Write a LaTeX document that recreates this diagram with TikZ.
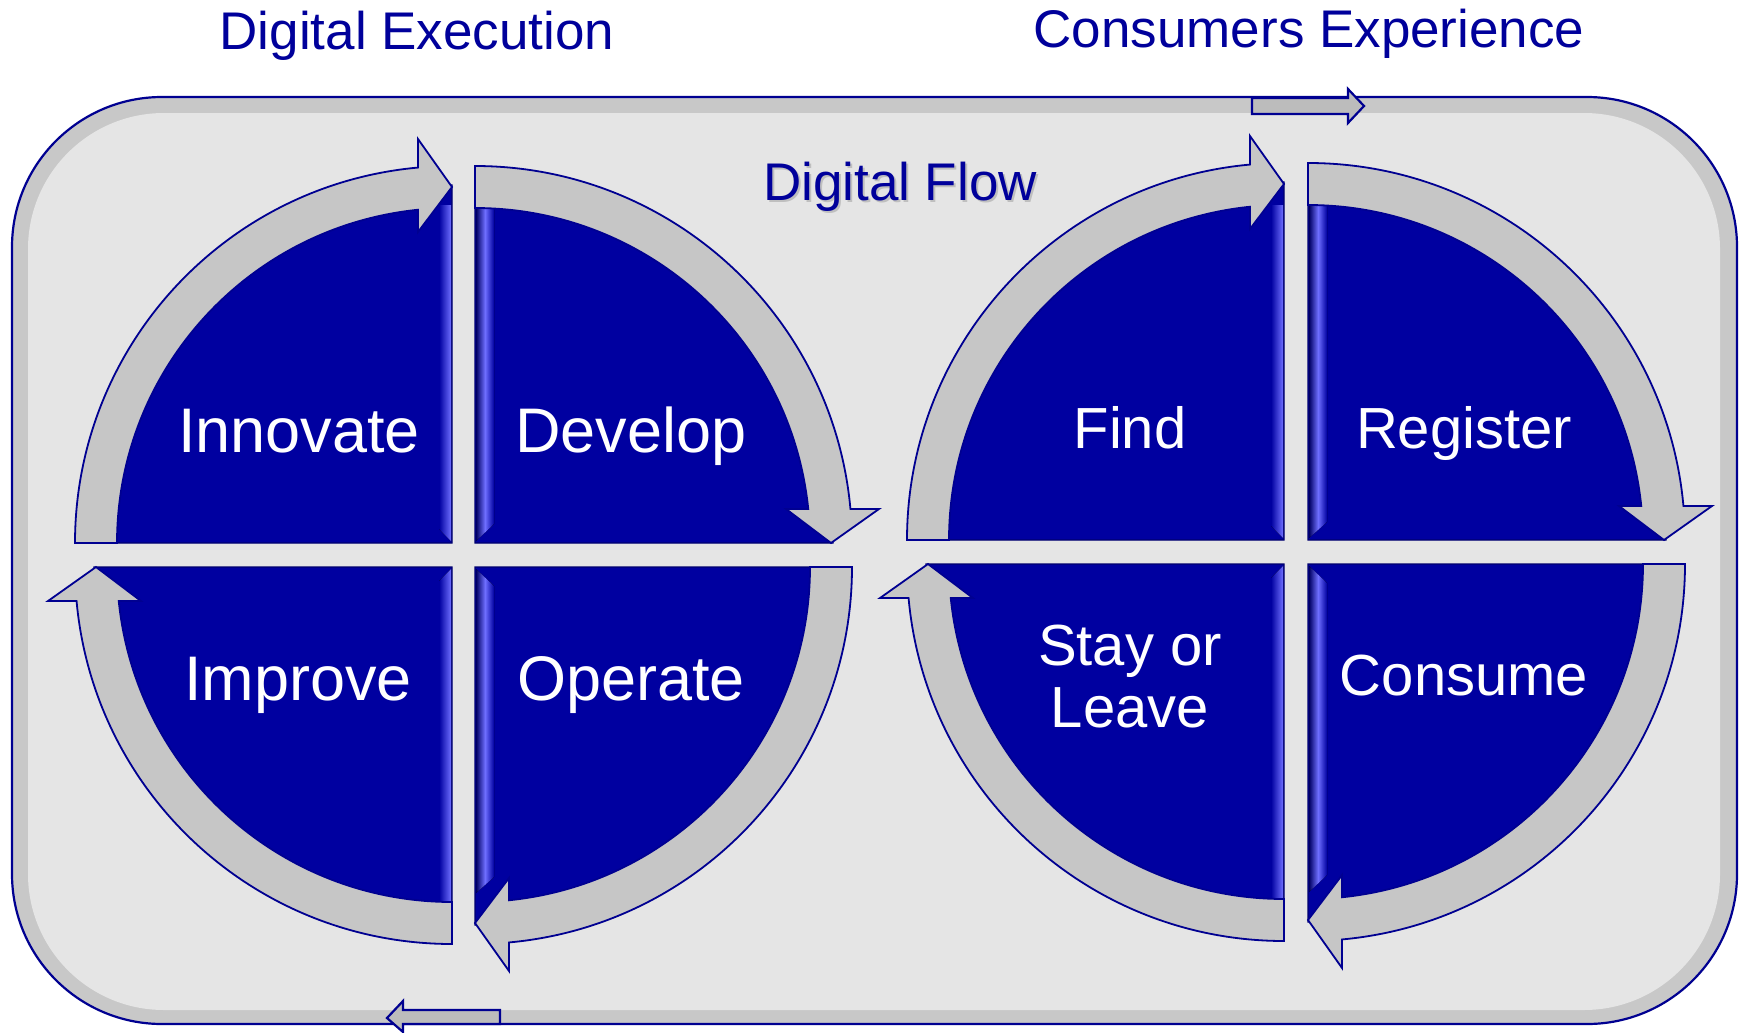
\documentclass[tikz,border=0pt]{standalone}
\usepackage{fontspec}
\setmainfont{Liberation Sans}
\usetikzlibrary{calc}
\definecolor{qblue}{RGB}{0,0,160}
\definecolor{qline}{RGB}{0,0,110}
\definecolor{qlight}{RGB}{110,110,255}
\definecolor{qdark}{RGB}{0,0,100}
\definecolor{agray}{RGB}{198,198,198}
\definecolor{bggray}{RGB}{229,229,229}
\definecolor{bandgray}{RGB}{200,200,200}
\definecolor{titleblue}{RGB}{0,0,155}
\definecolor{edgeblue}{RGB}{0,0,145}
\tikzset{
  quad/.style={fill=qblue, draw=qline, line width=1.2},
  arr/.style={fill=agray, draw=edgeblue, line width=1.8, line join=miter},
  bevL/.style={left color=qblue, right color=qlight},
  bevR/.style={left color=qdark, right color=qblue, middle color=qlight},
  smallarr/.style={fill=agray!95!black, draw=edgeblue, line width=2.2},
  labL/.style={text=white, anchor=base, inner sep=0pt, font=\fontsize{63}{70}\selectfont},
  labR/.style={text=white, anchor=base, inner sep=0pt, font=\fontsize{58}{62}\selectfont},
  ttl/.style={text=titleblue, anchor=base, inner sep=0pt, font=\fontsize{53}{60}\selectfont}
}
% quadrant: corner, start angle, end angle
\newcommand\myquad[3]{%
  \filldraw[quad, shift={#1}] (0,0) -- (#2:358) arc[start angle=#2, end angle=#3, radius=358] -- cycle;}
% curved arrow: corner, start angle (tail), end angle (tip)
\newcommand\myarrow[3]{%
  \draw[arr, shift={#1}] (#2:377) arc[start angle=#2, end angle={#3-5.17}, radius=377]
    -- ({#3-4.81}:405.4) -- (#3:356) -- ({#3-6.24}:312.9) -- ({#3-5.83}:335)
    arc[start angle={#3-5.83}, end angle=#2, radius=335] -- cycle;}
\begin{document}
\begin{tikzpicture}[x=1pt, y=-1pt]
\useasboundingbox (0,0) rectangle (1740,1033);
\fill[white] (0,0) rectangle (1740,1033);
% outer frame
\filldraw[fill=bandgray, draw=edgeblue, line width=2.2, rounded corners=150] (12,97) rectangle (1737,1024);
\fill[bggray, rounded corners=136] (28,113) rectangle (1720,1010);
% small arrows on frame
\draw[smallarr] (1252,98) -- (1348,98) -- (1348,89) -- (1364,106) -- (1348,123) -- (1348,114) -- (1252,114) -- cycle;
\draw[smallarr] (500,1010) -- (403,1010) -- (403,1001) -- (387,1018) -- (403,1032) -- (403,1024) -- (500,1024) -- cycle;
% corners
\coordinate (LTL) at (452,543);
\coordinate (LTR) at (475,543);
\coordinate (LBL) at (452,567);
\coordinate (LBR) at (475,567);
\coordinate (RTL) at (1284,540);
\coordinate (RTR) at (1308,540);
\coordinate (RBL) at (1284,564);
\coordinate (RBR) at (1308,564);
% quadrants
\myquad{(LTL)}{180}{270}
\myquad{(LTR)}{270}{360}
\myquad{(LBR)}{0}{90}
\myquad{(LBL)}{90}{180}
\myquad{(RTL)}{180}{270}
\myquad{(RTR)}{270}{360}
\myquad{(RBR)}{0}{90}
\myquad{(RBL)}{90}{180}
% bevel strips
\fill[bevL] (439,205) -- (451,205) -- (451,541) -- (439,529) -- cycle;
\fill[bevR] (476,205) -- (494,205) -- (494,524) -- (476,541) -- cycle;
\fill[bevR] (476,569) -- (494,586) -- (494,877) -- (476,893) -- cycle;
\fill[bevL] (439,581) -- (451,569) -- (451,912) -- (439,912) -- cycle;
\fill[bevL] (1271,205) -- (1283,205) -- (1283,538) -- (1271,526) -- cycle;
\fill[bevR] (1309,205) -- (1327,205) -- (1327,522) -- (1309,538) -- cycle;
\fill[bevR] (1309,566) -- (1327,583) -- (1327,875) -- (1309,892) -- cycle;
\fill[bevL] (1271,578) -- (1283,566) -- (1283,912) -- (1271,912) -- cycle;
% arrows
\myarrow{(LTL)}{180}{270}
\myarrow{(LTR)}{270}{360}
\myarrow{(LBR)}{0}{90}
\myarrow{(LBL)}{90}{180}
\myarrow{(RTL)}{180}{270}
\myarrow{(RTR)}{270}{360}
\myarrow{(RBR)}{0}{90}
\myarrow{(RBL)}{90}{180}
% titles
\node[ttl] (exec) at (417,49) {Digital Execution};
\node[ttl] (cons) at (1309,48) {Consumers Experience};
\node[ttl, text=black!25] (flowshadow) at (902,202) {Digital Flow};
\node[ttl] (flow) at (900,200) {Digital Flow};
% labels
\node[labL] (innovate) at (299,452) {Innovate};
\node[labL] (develop) at (631,452) {Develop};
\node[labL] (improve) at (298,700) {Improve};
\node[labL] (operate) at (631,700) {Operate};
\node[labR] (find) at (1130,448) {Find};
\node[labR] (register) at (1464,448) {Register};
\node[labR, align=center] (stay) at (1130,727) {Stay or\\Leave};
\node[labR] (consume) at (1464,695) {Consume};
\end{tikzpicture}
\end{document}
